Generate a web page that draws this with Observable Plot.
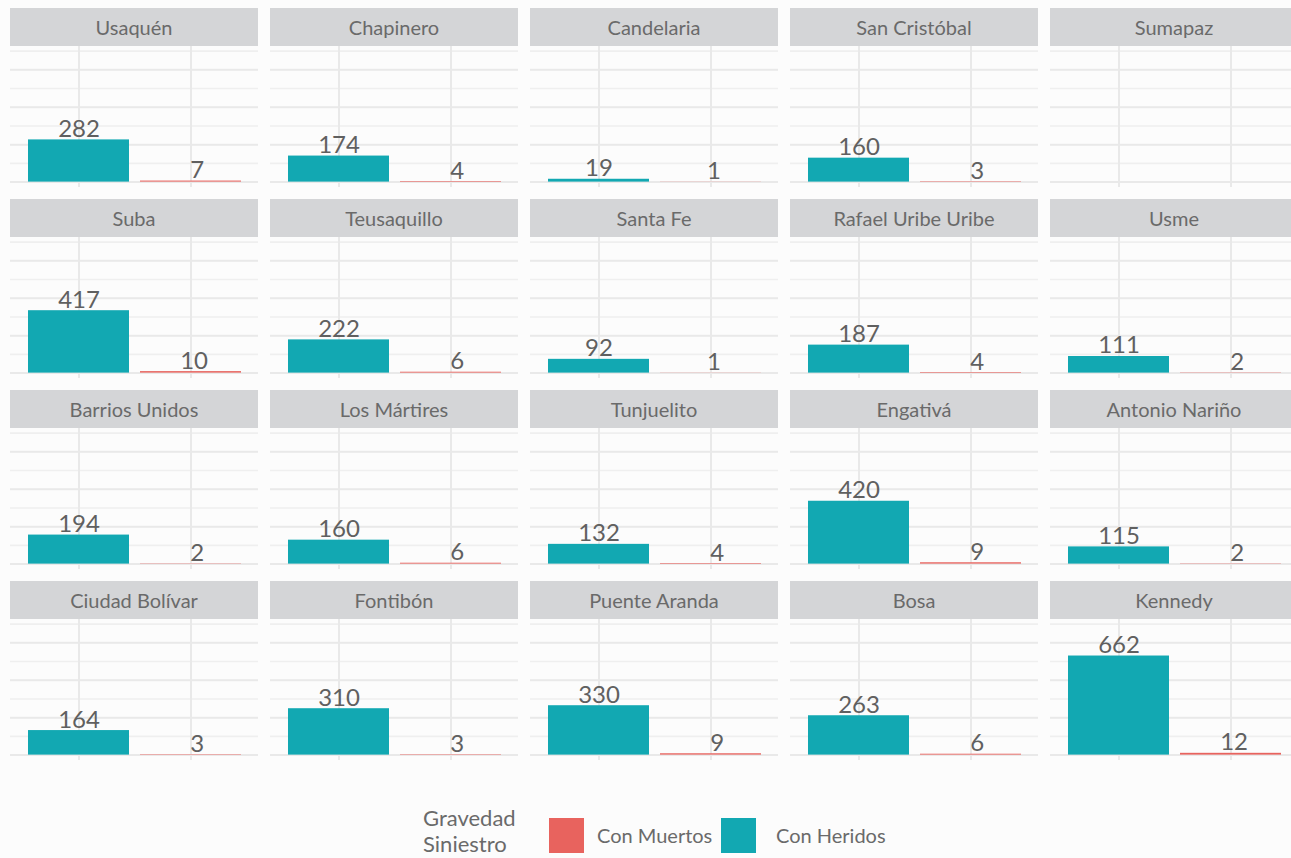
<!DOCTYPE html>
<html>
<head>
<meta charset="utf-8">
<script src="https://cdn.jsdelivr.net/npm/d3@7"></script>
<script src="https://cdn.jsdelivr.net/npm/@observablehq/plot@0.6"></script>
<style>
  html, body { margin: 0; padding: 0; background: #fcfcfc; width: 1291px; height: 858px; overflow: hidden; font-family: Lato, "Open Sans", sans-serif; }
  #grid { position: absolute; left: 0; top: 0; width: 1291px; height: 800px; }
  .panel { position: absolute; width: 248px; }
  .strip { height: 38px; background: #d4d5d7; color: #6a6a6a; font-size: 20px; line-height: 38px; text-align: center; }
  .panel svg { display: block; background: transparent; }
  #legend { position: absolute; left: 0; top: 0; width: 1291px; height: 858px; color: #6a6a6a; pointer-events: none; }
  #legend > div { position: absolute; white-space: nowrap; }
  #legend .title { font-size: 22px; line-height: 25px; left: 423px; }
  #legend .sw { width: 35px; height: 35px; top: 818px; }
  #legend .lab { font-size: 20px; line-height: 24px; top: 823px; }
</style>
</head>
<body>
<div id="grid"></div>
<div id="legend"></div>
<script>
// Data (row-major order of facets)
const districts = ["Usaquén","Chapinero","Candelaria","San Cristóbal","Sumapaz",
                   "Suba","Teusaquillo","Santa Fe","Rafael Uribe Uribe","Usme",
                   "Barrios Unidos","Los Mártires","Tunjuelito","Engativá","Antonio Nariño",
                   "Ciudad Bolívar","Fontibón","Puente Aranda","Bosa","Kennedy"];
const conHeridos = [282,174,19,160,null, 417,222,92,187,111, 194,160,132,420,115, 164,310,330,263,662];
const conMuertos = [7,4,1,3,null, 10,6,1,4,2, 2,6,4,9,2, 3,3,9,6,12];
const categories = ["Con Heridos","Con Muertos"];
const legendOrder = ["Con Muertos","Con Heridos"];
const legendTitle = ["Gravedad", "Siniestro"];
const colors = {"Con Heridos": "#12a8b2", "Con Muertos": "#e8635e"};
const gridMajor = [0,250,500,750];
const gridMinor = [125,375,625,875];
const ncol = 5;

const grid = document.getElementById("grid");
districts.forEach((name, i) => {
  const row = Math.floor(i / ncol), col = i % ncol;
  const panel = document.createElement("div");
  panel.className = "panel";
  panel.style.left = (10 + col * 260) + "px";
  panel.style.top = (8 + row * 191) + "px";
  const strip = document.createElement("div");
  strip.className = "strip";
  strip.textContent = name;
  panel.appendChild(strip);

  const data = [];
  if (conHeridos[i] != null) data.push({cat: "Con Heridos", v: conHeridos[i]});
  if (conMuertos[i] != null) data.push({cat: "Con Muertos", v: conMuertos[i]});
  // labels padded to a common width within the facet (like R's format())
  const w = d3.max(data, d => String(d.v).length) || 0;
  const label = d => String(d.v).padStart(w, "\u00a0");

  const chart = Plot.plot({
    width: 248, height: 141,
    marginTop: 0, marginBottom: 0, marginLeft: 0, marginRight: 0,
    style: {background: "transparent", fontFamily: "Lato, sans-serif", overflow: "visible"},
    x: {domain: categories, paddingInner: 0.1, paddingOuter: 0.15, axis: null},
    y: {domain: [-36, 906], axis: null},
    marks: [
      Plot.ruleY(gridMinor, {stroke: "#efefef", strokeWidth: 1.6}),
      Plot.ruleY(gridMajor, {stroke: "#e9e9e9", strokeWidth: 2}),
      Plot.ruleX(categories, {x: d => d, stroke: "#e9e9e9", strokeWidth: 2}),
      Plot.barY(data, {x: "cat", y: "v", fill: d => colors[d.cat]}),
      Plot.text(data, {x: "cat", y: "v", text: label, dy: -3, lineAnchor: "bottom",
                       fontSize: 24, fill: "#606060"})
    ]
  });
  panel.appendChild(chart);
  grid.appendChild(panel);
});

const legend = document.getElementById("legend");
legendTitle.forEach((s, k) => {
  const t = document.createElement("div");
  t.className = "title";
  t.style.top = (805 + k * 26) + "px";
  t.textContent = s;
  legend.appendChild(t);
});
const swLeft = [549, 721], labLeft = [597, 776];
legendOrder.forEach((c, k) => {
  const sw = document.createElement("div");
  sw.className = "sw";
  sw.style.background = colors[c];
  sw.style.left = swLeft[k] + "px";
  legend.appendChild(sw);
  const lab = document.createElement("div");
  lab.className = "lab";
  lab.style.left = labLeft[k] + "px";
  lab.textContent = c;
  legend.appendChild(lab);
});
</script>
</body>
</html>
